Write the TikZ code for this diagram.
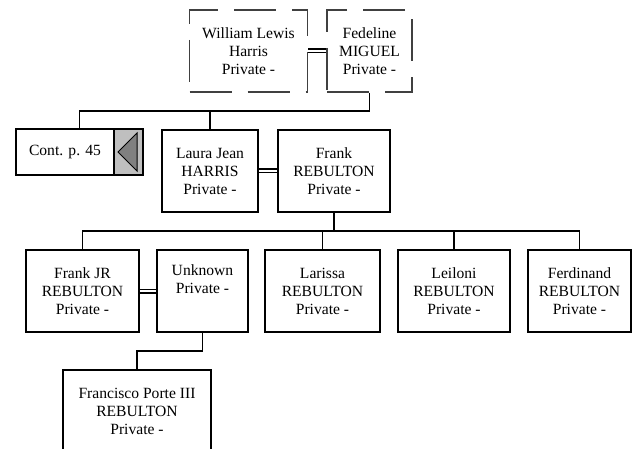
\documentclass[tikz,border=0pt]{standalone}
\usepackage{fontspec}
\setmainfont{Liberation Serif}
\usetikzlibrary{positioning,calc}
\newcommand{\treefont}{\fontsize{15.6}{18}\selectfont}
\tikzset{
  person/.style={draw,line width=1.8pt,align=center,inner sep=0pt,
                 minimum height=82pt,font=\treefont},
  ghost/.style={person,draw=black!75,line width=1.4pt,
                dash pattern=on 42pt off 16pt},
  link/.style={line width=1.8pt},
  spouse/.style={line width=1.4pt,double,double distance=2.2pt}
}

\begin{document}
\begin{tikzpicture}[x=1pt,y=-1pt]
  \clip (0,0) rectangle (634,449);
  %% Grandparents (dashed)
  \node[ghost,minimum width=118pt] (wlh) at (248.5,51)
       {William Lewis\\Harris\\Private -};
  \node[ghost,minimum width=85pt] (fmig) at (369.5,51)
       {Fedeline\\MIGUEL\\Private -};
  \draw[spouse] (wlh) -- (fmig);
  %% Continuation box with grey arrow part
  \node[person,minimum width=127pt,minimum height=46pt] (cont) at (79.5,152)
       {Cont. p. 45\hspace*{29pt}};
  \node[person,fill=black!25,minimum width=29pt,minimum height=46pt,
        anchor=east] (contgo) at (cont.east) {};
  \filldraw[fill=black!50,line width=1pt]([xshift=-10.5pt]contgo.center)
       --([shift={(8.5,-19)}]contgo.center)
       --([shift={(8.5,19)}]contgo.center)--cycle;
  %% Parents
  \node[person,minimum width=96pt] (ljh) at (210,171)
       {Laura Jean\\HARRIS\\Private -};
  \node[person,minimum width=112pt] (frr) at (334,171)
       {Frank\\REBULTON\\Private -};
  \draw[spouse] (ljh) -- (frr);
  %% Line down from Fedeline
  \draw[link](fmig.south)-- ++(0,18) coordinate (pbus);
  \draw[link](pbus) -| (cont.north);
  \draw[link](pbus) -| (ljh.north);
  %% Children of Frank
  \node[person,minimum width=113pt] (fjr) at (82.5,291)
       {Frank JR\\REBULTON\\Private -};
  \node[person,minimum width=91pt] (unk) at (202.5,291)
       {Unknown\\Private -\\\strut};
  \node[person,minimum width=115pt] (lar) at (322.5,291)
       {Larissa\\REBULTON\\Private -};
  \node[person,minimum width=112pt] (lei) at (454,291)
       {Leiloni\\REBULTON\\Private -};
  \node[person,minimum width=103pt] (fer) at (579.5,291)
       {Ferdinand\\REBULTON\\Private -};
  \draw[spouse] (fjr) -- (unk);
  \draw[link](frr.south)-- ++(0,18) coordinate (kbus);
  \draw[link](kbus) -| (fjr.north);
  \draw[link](kbus) -| (lar.north);
  \draw[link](kbus) -| (lei.north);
  \draw[link](kbus) -| (fer.north);
  %% Grandchild, runs off the page
  \node[person,minimum width=148pt] (fpr) at (137,411)
       {Francisco Porte III\\REBULTON\\Private -};
  \draw[link](unk.south)-- ++(0,18) -| (fpr.north);
\end{tikzpicture}
\end{document}
